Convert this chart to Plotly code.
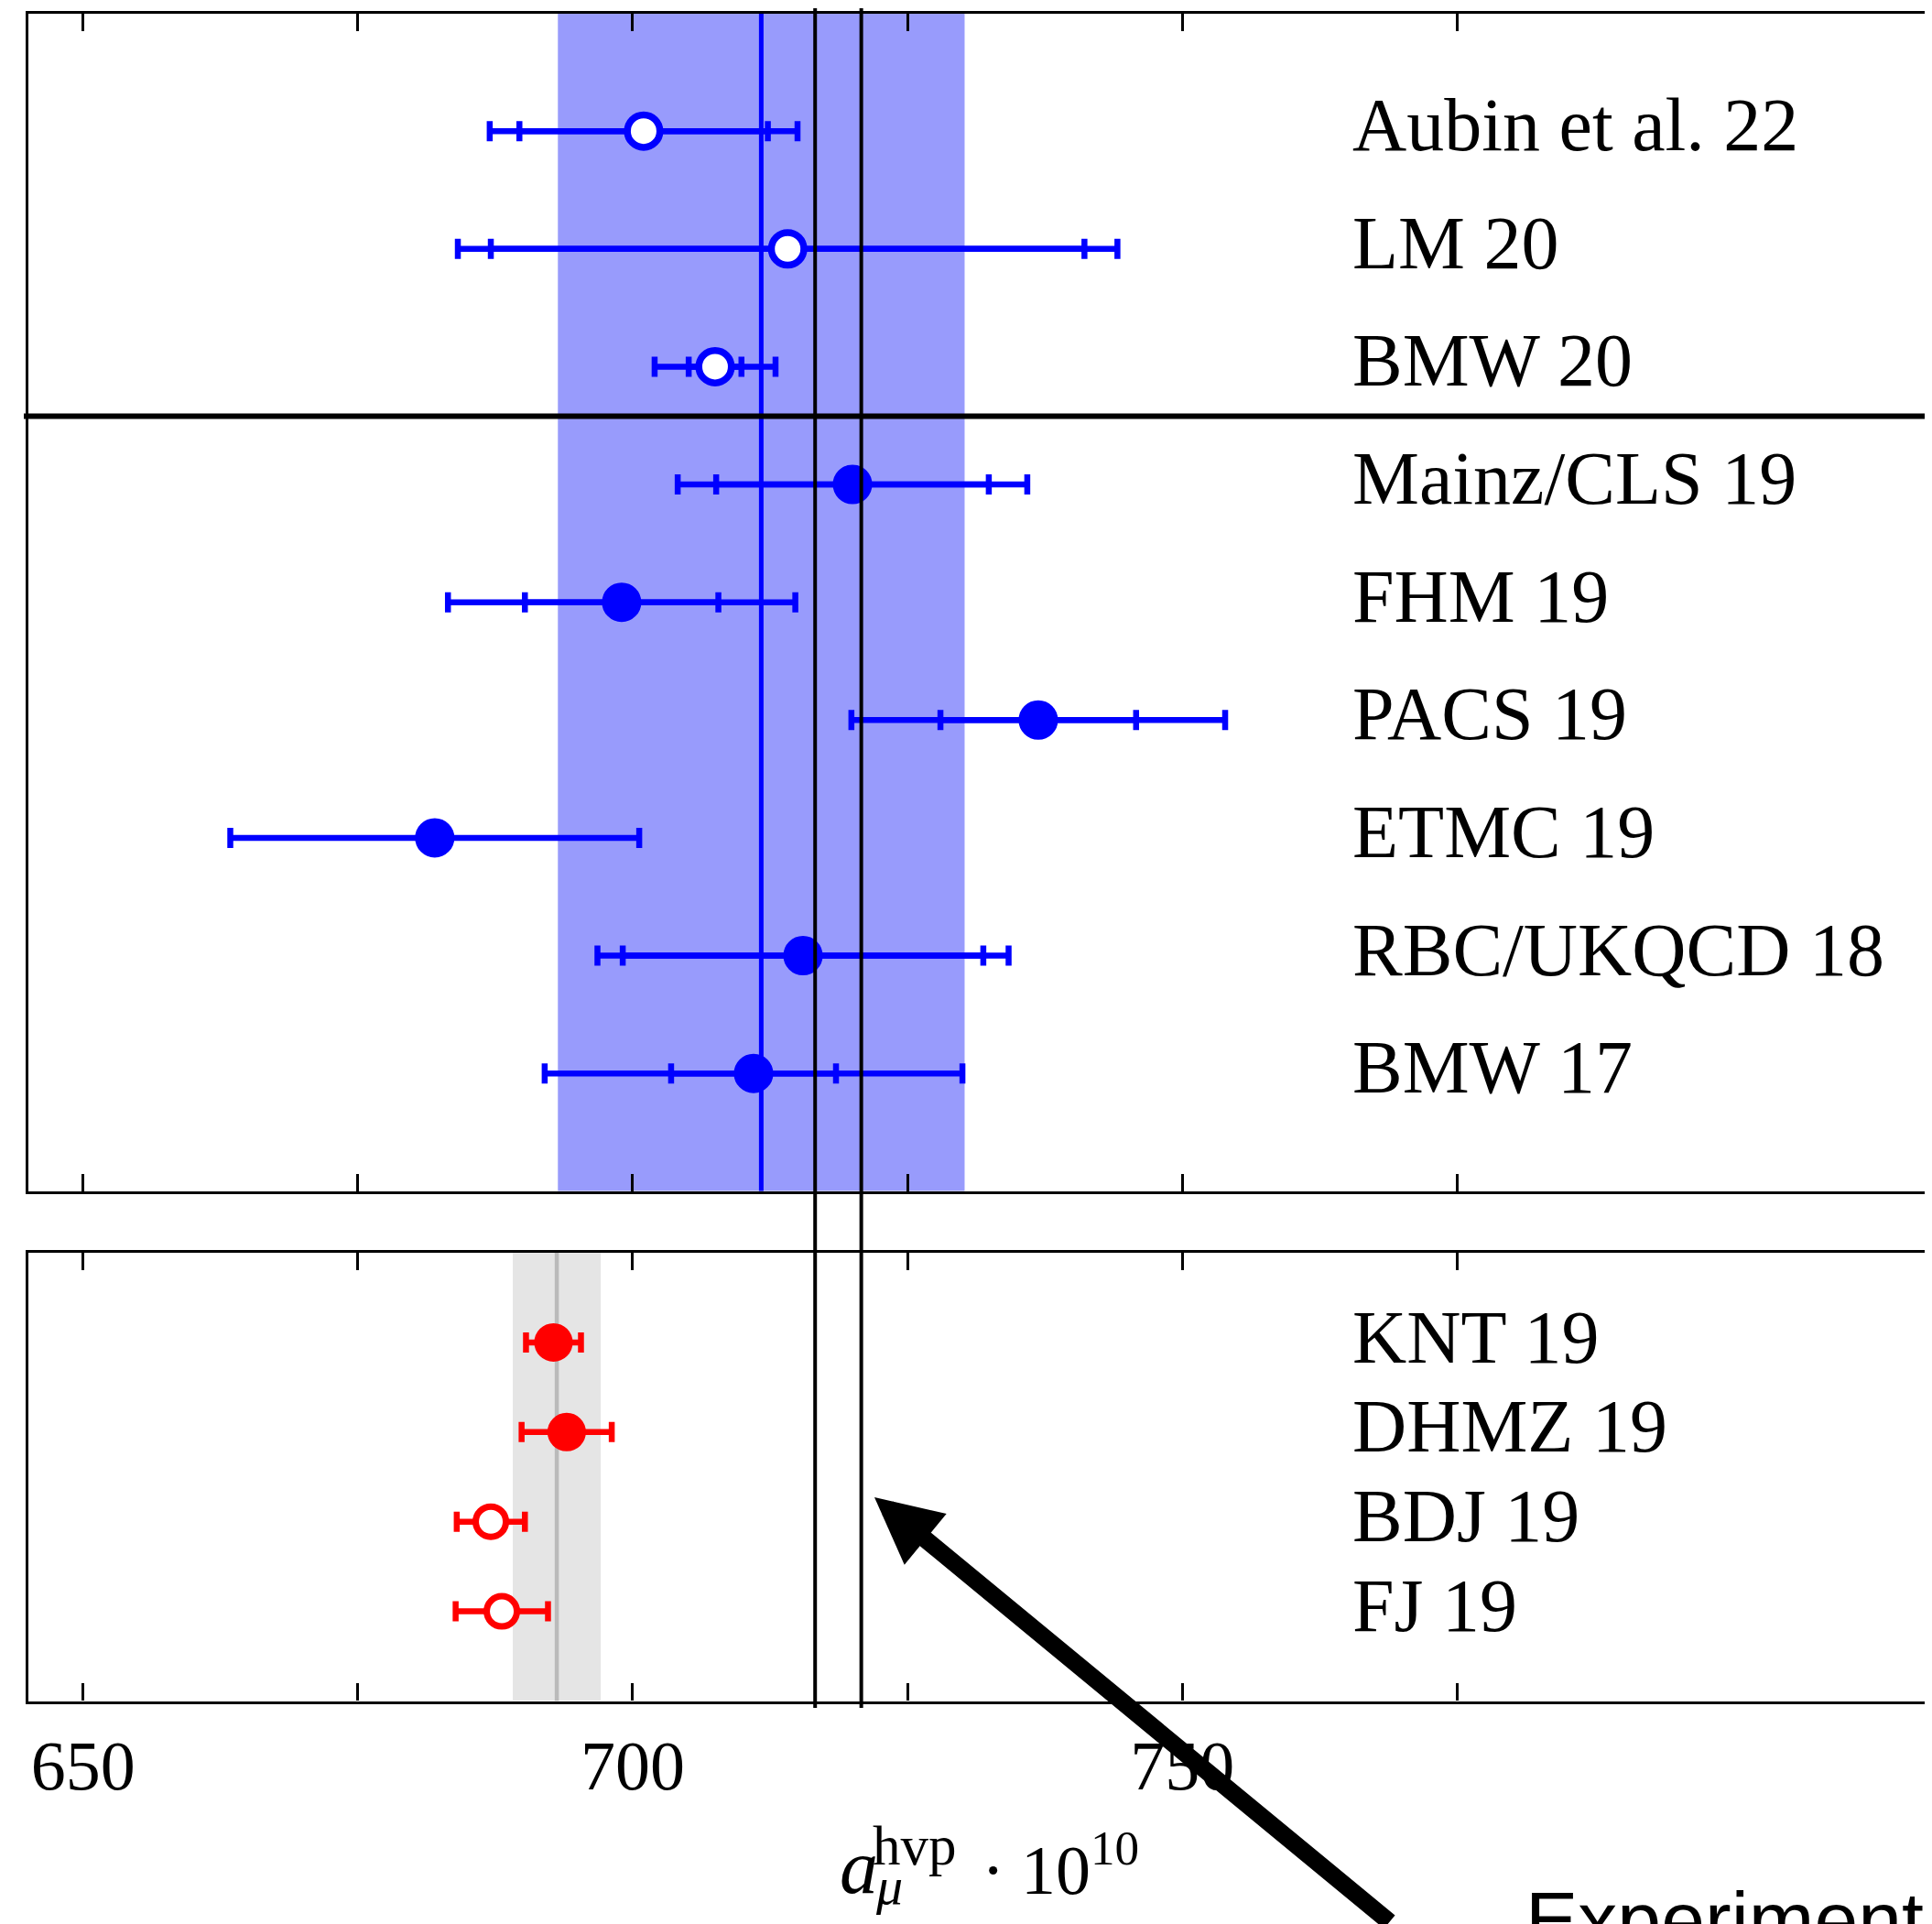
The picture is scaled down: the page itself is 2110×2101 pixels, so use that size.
import plotly.graph_objects as go

# ---------------- data ----------------
lattice_labels = ["Aubin et al. 22", "LM 20", "BMW 20", "Mainz/CLS 19", "FHM 19",
                  "PACS 19", "ETMC 19", "RBC/UKQCD 18", "BMW 17"]
lattice_values = [701.0, 714.1, 707.5, 720.0, 699.0, 736.9, 682.0, 715.5, 711.0]
lattice_inner_err = [11.3, 27.0, 2.4, 12.4, 8.8, 8.9, 0.0, 16.4, 7.5]
lattice_total_err = [14.0, 30.0, 5.5, 15.9, 15.8, 17.0, 18.6, 18.7, 19.0]
lattice_open = [True, True, True, False, False, False, False, False, False]

pheno_labels = ["KNT 19", "DHMZ 19", "BDJ 19", "FJ 19"]
pheno_values = [692.8, 694.0, 687.1, 688.1]
pheno_err = [2.5, 4.1, 3.1, 4.2]
pheno_open = [False, False, True, True]

lattice_avg = 711.7
lattice_avg_err = 18.5
pheno_avg = 693.1
pheno_avg_err = 4.0
experiment_lines = [716.6, 720.8]

tick_vals = [650, 675, 700, 725, 750, 775]
tick_text = ["650", "", "700", "", "750", ""]

# ---------------- styling helpers ----------------
W, H = 2110, 2101          # browser window
OFF = 8                    # default page margin of the html body
FW, FH = W - OFF, H - OFF  # figure size so that it exactly fills the window
BLUE = "#0000ff"
RED = "#ff0000"
SERIF = "Liberation Serif, Times New Roman, serif"
SANS = "Liberation Sans, Arial, sans-serif"


def px_x(p):
    return (p - OFF) / FW


def px_y(p):
    return 1 - (p - OFF) / FH


n_lat = len(lattice_labels)
lat_rows = list(range(n_lat, 0, -1))
n_ph = len(pheno_labels)
ph_rows = list(range(n_ph, 0, -1))

fig = go.Figure()

# lattice: total error, inner error, markers
fig.add_trace(go.Scatter(
    x=lattice_values, y=lat_rows, mode="markers", xaxis="x", yaxis="y",
    marker=dict(size=2, color=BLUE, opacity=1),
    error_x=dict(type="data", array=lattice_total_err, symmetric=True,
                 color=BLUE, thickness=6.5, width=11),
    hoverinfo="skip", showlegend=False))
fig.add_trace(go.Scatter(
    x=lattice_values, y=lat_rows, mode="markers", xaxis="x", yaxis="y",
    marker=dict(size=2, color=BLUE, opacity=1),
    error_x=dict(type="data", array=lattice_inner_err, symmetric=True,
                 color=BLUE, thickness=6.5, width=11),
    hoverinfo="skip", showlegend=False))
fig.add_trace(go.Scatter(
    x=lattice_values, y=lat_rows, mode="markers", xaxis="x", yaxis="y",
    marker=dict(size=[35.5 if o else 40 for o in lattice_open], opacity=1,
                color=["white" if o else BLUE for o in lattice_open],
                line=dict(color=BLUE, width=[7.5 if o else 3 for o in lattice_open])),
    text=lattice_labels, showlegend=False))

# phenomenology
fig.add_trace(go.Scatter(
    x=pheno_values, y=ph_rows, mode="markers", xaxis="x2", yaxis="y2",
    marker=dict(size=2, color=RED, opacity=1),
    error_x=dict(type="data", array=pheno_err, symmetric=True,
                 color=RED, thickness=6.5, width=11),
    hoverinfo="skip", showlegend=False))
fig.add_trace(go.Scatter(
    x=pheno_values, y=ph_rows, mode="markers", xaxis="x2", yaxis="y2",
    marker=dict(size=[33 if o else 39 for o in pheno_open], opacity=1,
                color=["white" if o else RED for o in pheno_open],
                line=dict(color=RED, width=[7 if o else 3 for o in pheno_open])),
    text=pheno_labels, showlegend=False))

# ---------------- shapes ----------------
shapes = []
# lattice average band + line
shapes.append(dict(type="rect", xref="x", yref="y",
                   x0=lattice_avg - lattice_avg_err, x1=lattice_avg + lattice_avg_err,
                   y0=0, y1=n_lat + 1, fillcolor="#989bfc", line=dict(width=0),
                   layer="below"))
shapes.append(dict(type="line", xref="x", yref="y", x0=lattice_avg, x1=lattice_avg,
                   y0=0, y1=n_lat + 1, line=dict(color=BLUE, width=5), layer="below"))
# pheno average band + line
shapes.append(dict(type="rect", xref="x2", yref="y2",
                   x0=pheno_avg - pheno_avg_err, x1=pheno_avg + pheno_avg_err,
                   y0=0, y1=n_ph + 1, fillcolor="#e5e5e5", line=dict(width=0),
                   layer="below"))
shapes.append(dict(type="line", xref="x2", yref="y2", x0=pheno_avg, x1=pheno_avg,
                   y0=0, y1=n_ph + 1, line=dict(color="#bababa", width=4.5),
                   layer="below"))
# separator between new and older lattice results
shapes.append(dict(type="line", xref="paper", yref="y", x0=px_x(26), x1=1,
                   y0=6.58, y1=6.58, line=dict(color="black", width=6)))
# experiment lines spanning both panels
for xv in experiment_lines:
    shapes.append(dict(type="line", xref="x", yref="paper", x0=xv, x1=xv,
                       y0=px_y(1865), y1=px_y(9), line=dict(color="black", width=4)))

# ---------------- annotations ----------------
ann = []
for lab, r in zip(lattice_labels, lat_rows):
    ann.append(dict(text=lab, xref="x", yref="y", x=765.3, y=r + 0.05,
                    xanchor="left", yanchor="middle", showarrow=False,
                    font=dict(family=SERIF, size=82, color="black")))
for lab, r in zip(pheno_labels, ph_rows):
    ann.append(dict(text=lab, xref="x2", yref="y2", x=765.3, y=r + 0.06,
                    xanchor="left", yanchor="middle", showarrow=False,
                    font=dict(family=SERIF, size=82, color="black")))

# axis title a_mu^hvp . 10^10 (built from pieces to stack sub/superscript)
ann.append(dict(text="<i>a</i>", xref="paper", yref="paper", x=px_x(915), y=px_y(2087),
                xanchor="left", yanchor="bottom", showarrow=False,
                font=dict(family=SERIF, size=84, color="black")))
ann.append(dict(text="hvp", xref="paper", yref="paper", x=px_x(951), y=px_y(2051),
                xanchor="left", yanchor="bottom", showarrow=False,
                font=dict(family=SERIF, size=61, color="black")))
ann.append(dict(text="<i>μ</i>", xref="paper", yref="paper", x=px_x(954), y=px_y(2094),
                xanchor="left", yanchor="bottom", showarrow=False,
                font=dict(family=SERIF, size=58, color="black")))
ann.append(dict(text="·", xref="paper", yref="paper", x=px_x(1084), y=px_y(2086),
                xanchor="center", yanchor="bottom", showarrow=False,
                font=dict(family=SERIF, size=76, color="black")))
ann.append(dict(text="10<sup>10</sup>", xref="paper", yref="paper", x=px_x(1113), y=px_y(2086),
                xanchor="left", yanchor="bottom", showarrow=False,
                font=dict(family=SERIF, size=76, color="black")))

# Experiment arrow + text
ann.append(dict(text="", xref="paper", yref="paper", x=px_x(955), y=px_y(1635),
                ax=564, ay=465, axref="pixel", ayref="pixel",
                showarrow=True, arrowhead=2, arrowsize=0.76, arrowwidth=19,
                arrowcolor="black", standoff=0))
ann.append(dict(text="Experiment", xref="paper", yref="paper", x=px_x(1664), y=px_y(2046),
                xanchor="left", yanchor="top", showarrow=False,
                font=dict(family=SANS, size=86, color="black")))

axis_common = dict(range=[645.0, 818.2], domain=[px_x(30.6), 1], showgrid=False,
                   zeroline=False, showline=True, linecolor="black", linewidth=3.2,
                   mirror="ticks", ticks="inside", ticklen=19, tickwidth=3,
                   tickcolor="black", tickmode="array", tickvals=tick_vals)

fig.update_layout(
    width=FW, height=FH, autosize=False,
    margin=dict(l=0, r=0, t=0, b=0),
    paper_bgcolor="white", plot_bgcolor="white",
    showlegend=False,
    xaxis=dict(anchor="y", showticklabels=False, **axis_common),
    yaxis=dict(domain=[px_y(1300.8), px_y(14.5)], range=[0, n_lat + 1], anchor="x",
               showgrid=False, zeroline=False, showline=True, linecolor="black",
               linewidth=3.2, ticks="", showticklabels=False),
    xaxis2=dict(anchor="y2", showticklabels=True, ticktext=tick_text,
                tickfont=dict(family=SERIF, size=76, color="black"),
                ticklabelstandoff=2, **axis_common),
    yaxis2=dict(domain=[px_y(1857.5), px_y(1368)], range=[0, n_ph + 1], anchor="x2",
                showgrid=False, zeroline=False, showline=True, linecolor="black",
                linewidth=3.2, ticks="", showticklabels=False),
    shapes=shapes,
    annotations=ann,
)

fig.write_html("out.html")
